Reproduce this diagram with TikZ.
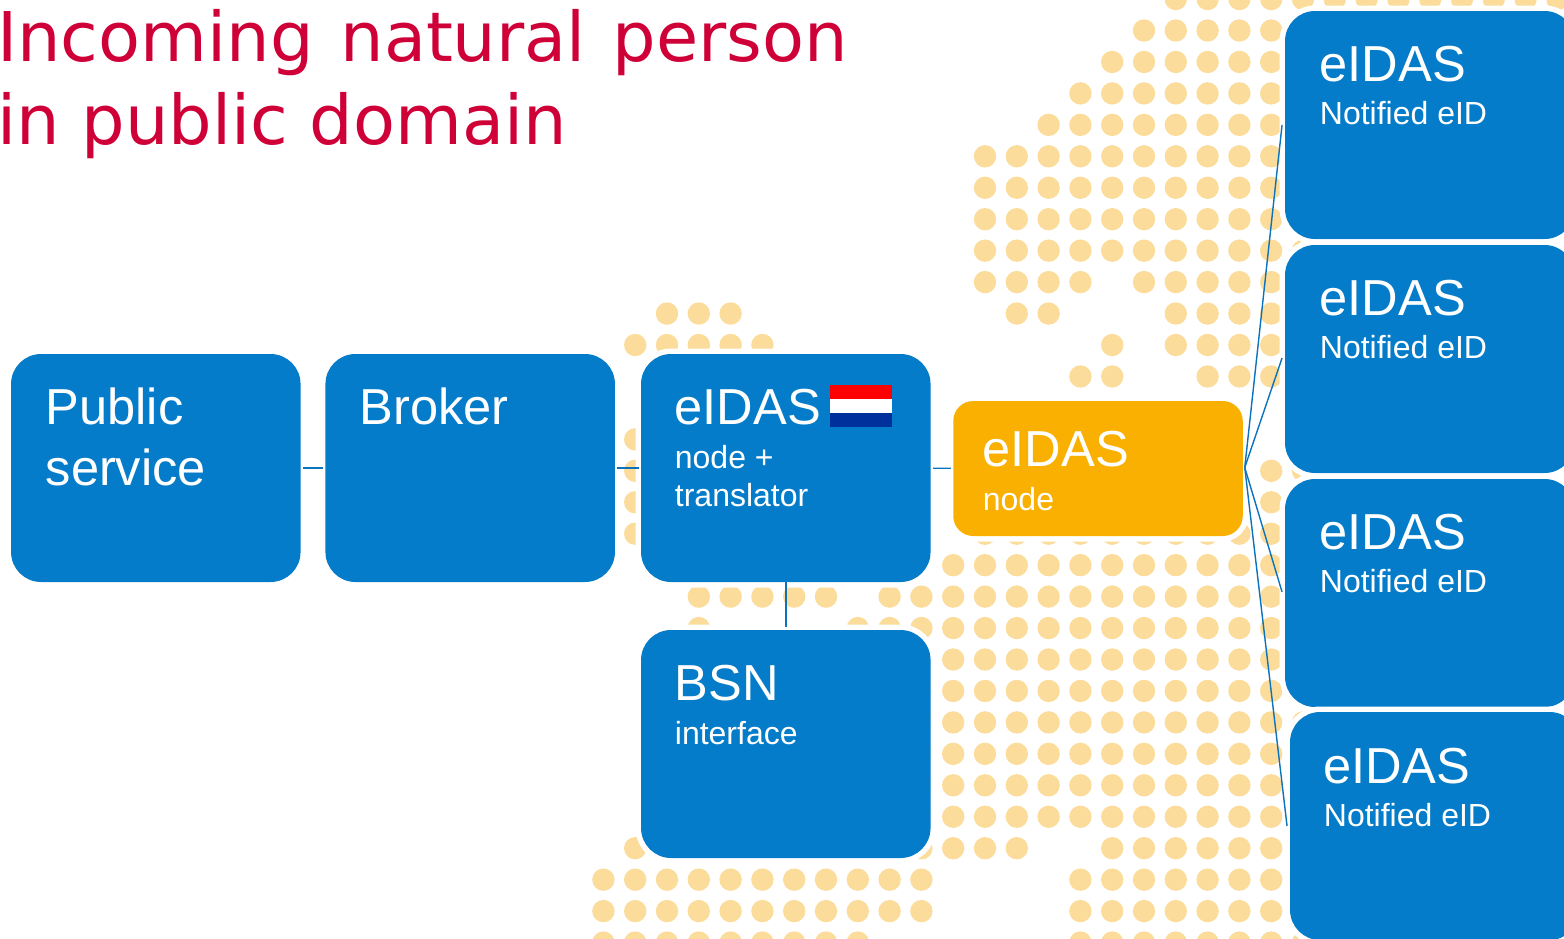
\documentclass[tikz,border=0pt]{standalone}
\usepackage{fontspec}
\setmainfont{Liberation Sans}
\newfontfamily\titlefont{DejaVu Sans}
\definecolor{boxblue}{HTML}{047CC9}
\definecolor{linkblue}{HTML}{0B72BC}
\definecolor{boxorange}{HTML}{FAB000}
\definecolor{dotpeach}{HTML}{FBDC9A}
\definecolor{titlered}{HTML}{CE0037}
\definecolor{flagred}{HTML}{FF0000}
\definecolor{flagblue}{HTML}{00309B}
\tikzset{
  panel/.style={rounded corners=30pt, minimum width=289.5pt, minimum height=228pt, inner sep=0pt, outer sep=0pt,
    preaction={draw=white, line width=11pt}, fill=boxblue},
  orangepanel/.style={rounded corners=20pt, minimum width=289.5pt, minimum height=135pt, inner sep=0pt, outer sep=0pt,
    preaction={draw=white, line width=11pt}, fill=boxorange},
  bigtext/.style={anchor=base west, text=white, inner sep=0pt, font=\fontsize{50.6}{50.6}\selectfont},
  smalltext/.style={anchor=base west, text=white, inner sep=0pt, font=\fontsize{32}{32}\selectfont},
  titletext/.style={anchor=base west, text=titlered, inner sep=0pt, font=\titlefont\fontsize{68.6}{68.6}\selectfont},
  link/.style={draw=linkblue, line width=1.4pt},
  shortlink/.style={link, shorten >=2.5pt, shorten <=2.5pt},
  downlink/.style={link, shorten >=3pt},
  dot/.style={fill=dotpeach, draw=none}
}
\newcommand{\dotrow}[2]{\foreach \i in {#2} {\fill[dot] ({985+31.8*\i},{30.5+31.45*#1}) circle (11.2);}}
\begin{document}
\begin{tikzpicture}[x=1pt,y=-1pt]
\clip (0,0) rectangle (1564,938);
% dotted map
\dotrow{-1}{6,...,18}
\dotrow{0}{5,...,10}
\dotrow{1}{4,...,10}
\dotrow{2}{3,...,10}
\dotrow{3}{2,...,10}
\foreach \j in {4,...,7} {\dotrow{\j}{0,...,10}}
\dotrow{8}{0,1,2,3,5,6,7,8,9,10}
\dotrow{9}{-10,-9,-8,1,2,6,7,8,9,10}
\dotrow{10}{-11,-10,-9,-8,-7,4,6,7,8,9,10}
\dotrow{11}{3,4,7,8,9,10}
\dotrow{13}{-11}
\dotrow{14}{-11,9,10}
\dotrow{15}{-11,9,10}
\dotrow{16}{-11,0,1,2,3,4,5,6,7,8,9,10}
\dotrow{17}{-12,-1,0,1,2,3,4,5,6,7,8,9,10}
\dotrow{18}{-9,-8,-7,-6,-5,-3,-2,-1,0,1,2,3,4,5,6,7,8,9,10}
\dotrow{19}{-9,-4,-3,-2,-1,0,1,2,3,4,5,6,7,8,9,10}
\foreach \j in {20,...,25} {\dotrow{\j}{-1,0,1,2,3,4,5,6,7,8,9,10}}
\dotrow{26}{-11,-2,-1,0,1,4,5,6,7,8,9,10}
\dotrow{27}{-12,-11,-10,-9,-8,-7,-6,-5,-4,-3,-2,3,4,5,6,7,8,9,10}
\dotrow{28}{-12,-11,-10,-9,-8,-7,-6,-5,-4,-3,-2,3,4,5,6,7,8,9,10}
\dotrow{29}{-12,-11,-10,-9,-8,-7,-6,-5,-4,3,4,5,6,7,8,9,10}
% title
\node[titletext] (title1) at (-3,61.5) {\spaceskip=27pt Incoming natural person};
\node[titletext] (title2) at (-3,144.5) {in public domain};
% panels
\node[panel] (public) at (155.8,468) {};
\node[panel] (broker) at (470.2,468) {};
\node[panel] (nl) at (785.8,468) {};
\node[panel] (bsn) at (785.8,744) {};
\node[orangepanel] (node) at (1098,468.5) {};
\node[panel] (id1) at (1429.8,125) {};
\node[panel] (id2) at (1429.8,359) {};
\node[panel] (id3) at (1429.8,593) {};
\node[panel] (id4) at (1434.8,826) {};
% connectors
\coordinate (hub) at ([xshift=2pt,yshift=1pt]node.east);
\coordinate (end1) at ([xshift=-3pt]id1.west);
\coordinate (end2) at ([xshift=-3pt,yshift=1pt]id2.west);
\coordinate (end3) at ([xshift=-3pt,yshift=1pt]id3.west);
\coordinate (end4) at ([xshift=-3pt]id4.west);
\draw[shortlink] (public) -- (broker);
\draw[shortlink] (broker) -- (nl);
\draw[shortlink] (nl) -- (node);
\draw[downlink] (nl.south) -- (bsn.north);
\draw[link] (hub) -- (end1);
\draw[link] (hub) -- (end2);
\draw[link] (hub) -- (end3);
\draw[link] (hub) -- (end4);
% flag
\fill[flagred] (830,385) rectangle (892,399);
\fill[white] (830,399) rectangle (892,413);
\fill[flagblue] (830,413) rectangle (892,427);
% labels
\node[bigtext] (t1) at (45.5,424.5) {Public};
\node[bigtext] (t2) at (45.5,485.5) {service};
\node[bigtext] (t3) at (359.5,424.5) {Broker};
\node[bigtext] (t4) at (674.5,424.5) {eIDAS};
\node[smalltext] (t5) at (674.7,468) {node +};
\node[smalltext] (t6) at (674.7,506) {translator};
\node[bigtext] (t7) at (674.5,700.5) {BSN};
\node[smalltext] (t8) at (674.7,744) {interface};
\node[bigtext] (t9) at (982.5,466.5) {eIDAS};
\node[smalltext] (t10) at (982.7,510) {node};
\node[bigtext] (a1) at (1319.5,81.5) {eIDAS};
\node[smalltext] (a2) at (1319.7,124) {Notified eID};
\node[bigtext] (b1) at (1319.5,315.5) {eIDAS};
\node[smalltext] (b2) at (1319.7,358) {Notified eID};
\node[bigtext] (c1) at (1319.5,549.5) {eIDAS};
\node[smalltext] (c2) at (1319.7,592) {Notified eID};
\node[bigtext] (d1) at (1323.5,783.5) {eIDAS};
\node[smalltext] (d2) at (1323.7,826) {Notified eID};
\end{tikzpicture}
\end{document}
